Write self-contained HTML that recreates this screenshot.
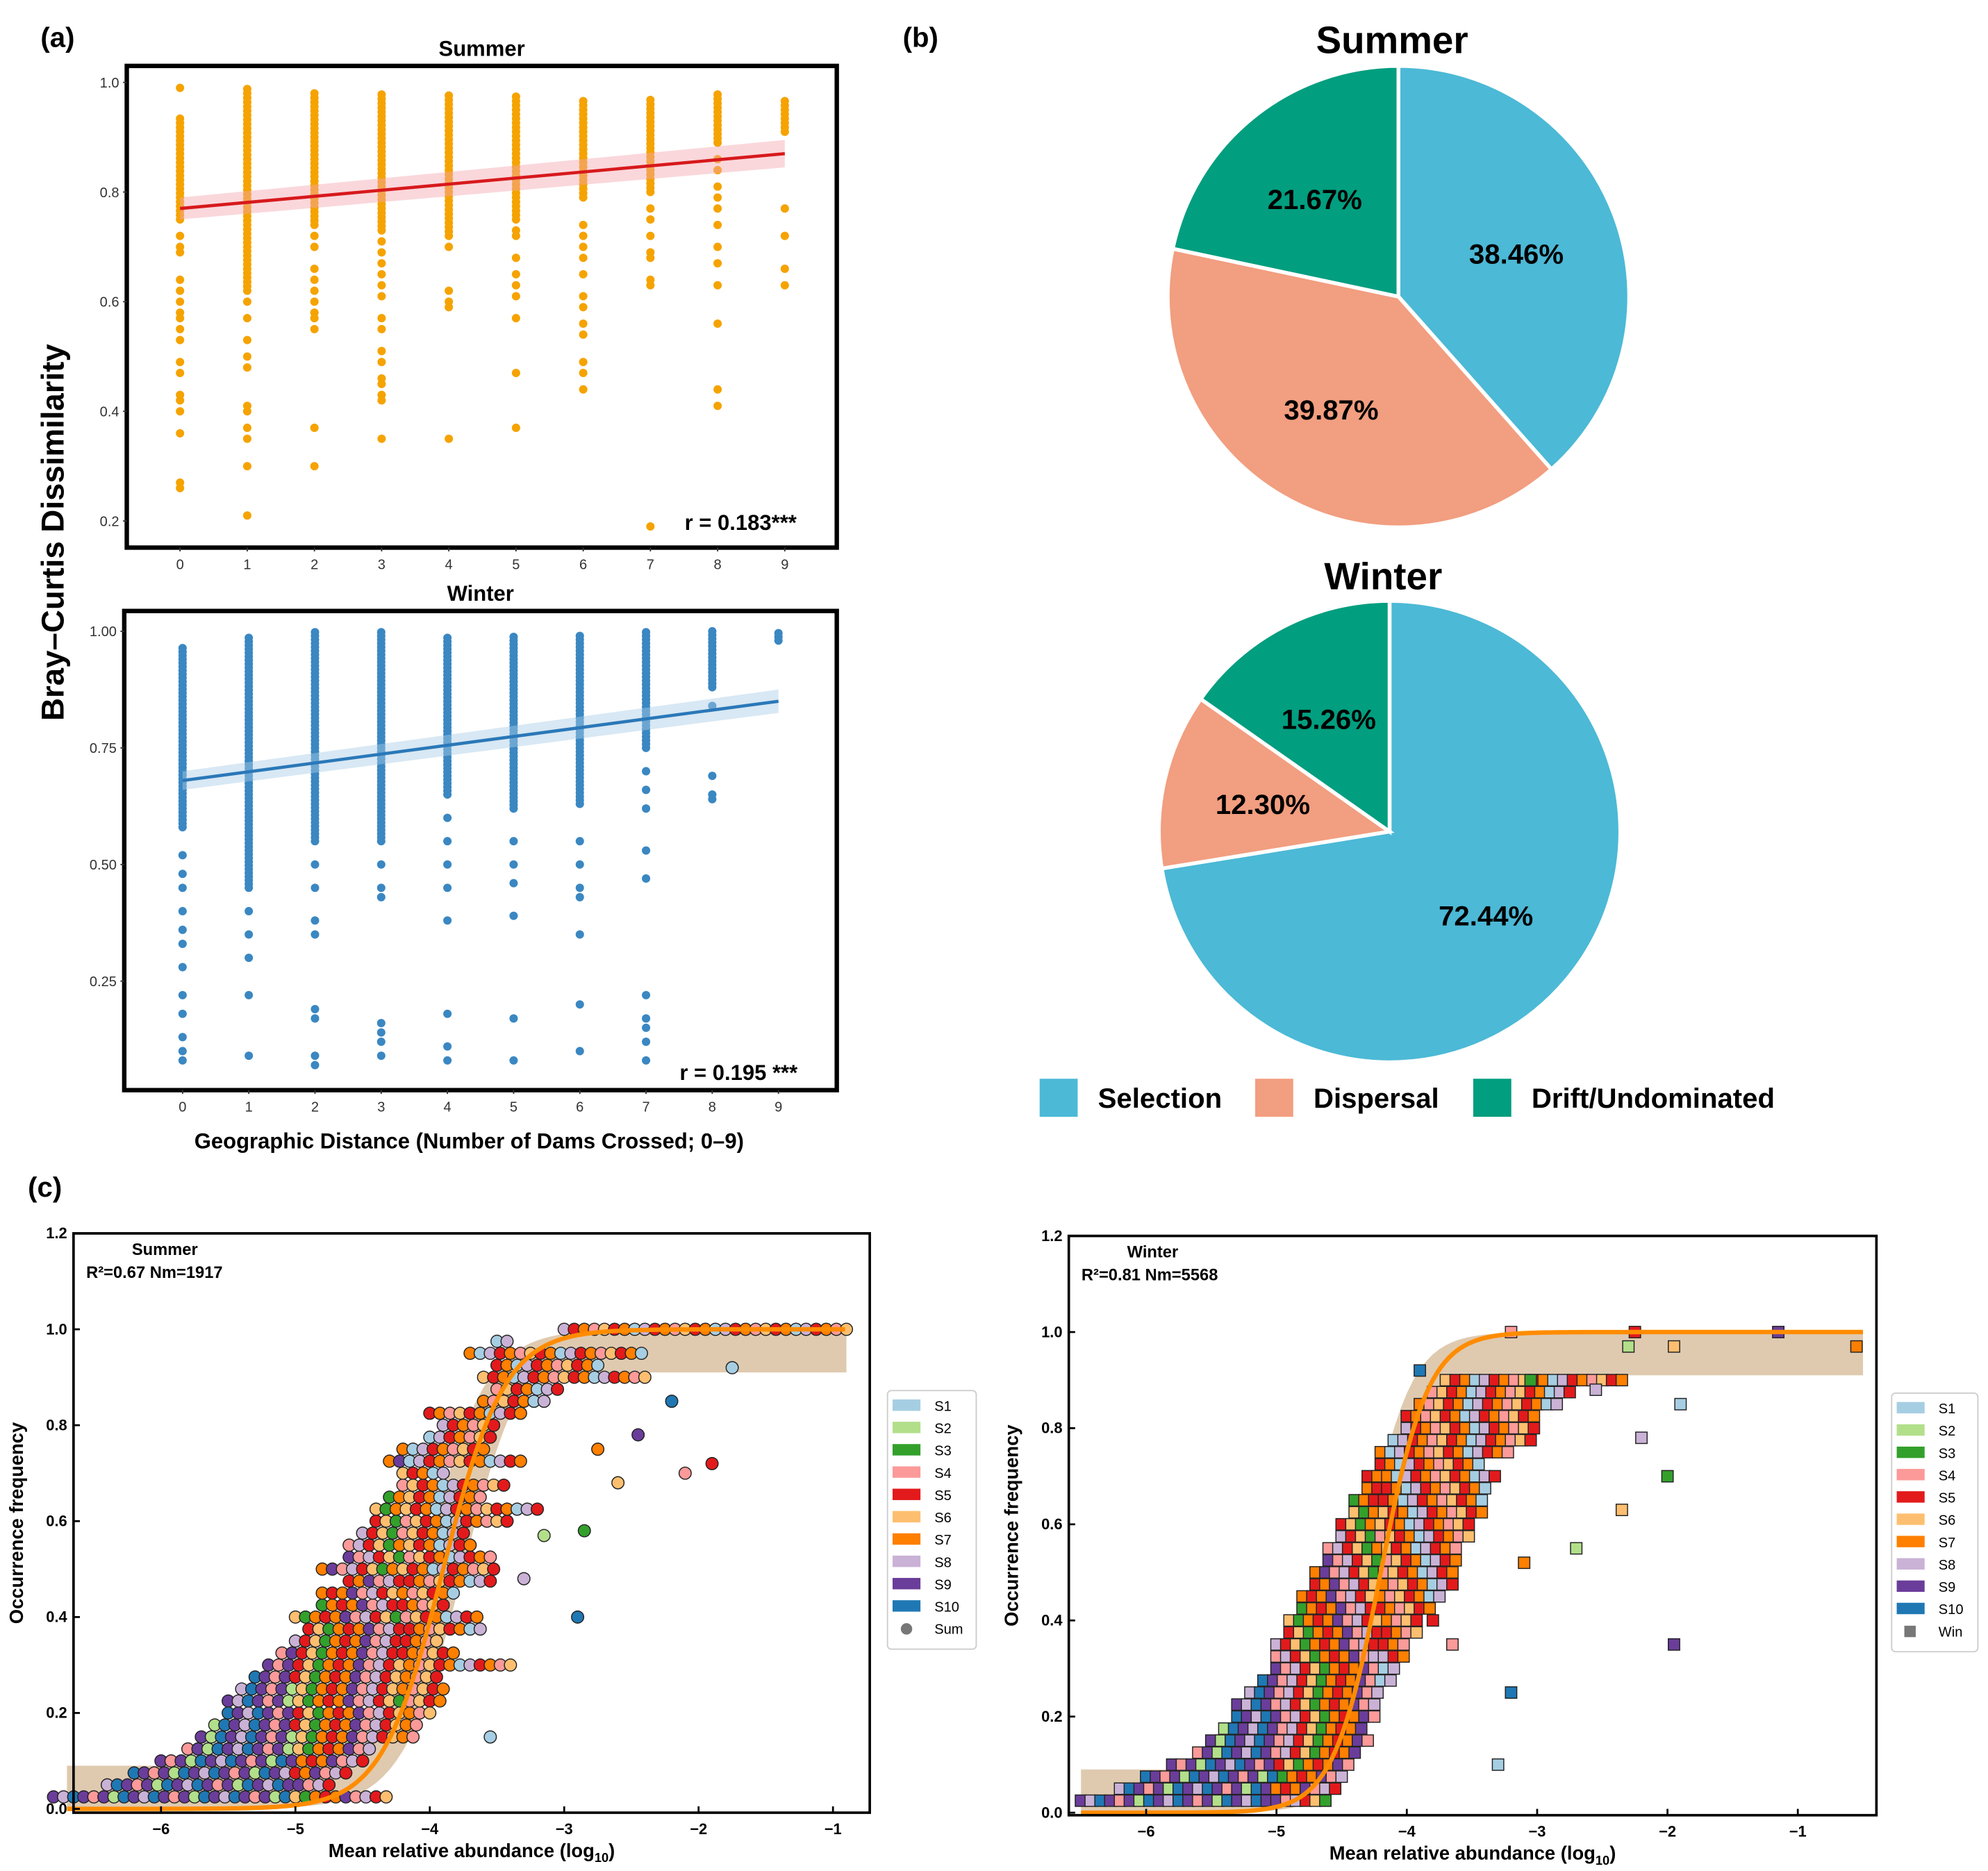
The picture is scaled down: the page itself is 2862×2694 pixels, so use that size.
<!DOCTYPE html>
<html><head><meta charset="utf-8"><style>
html,body{margin:0;padding:0;background:#fff;}
svg{display:block;font-family:"Liberation Sans",Arial,sans-serif;}
</style></head><body>
<svg id="fig" width="2862" height="2694" viewBox="0 0 1568 1476" preserveAspectRatio="none" xmlns="http://www.w3.org/2000/svg">
<rect width="1568" height="1476" fill="#fff"/>
<g id="pa"></g>
<g id="pb"></g>
<g id="pc"></g>
</svg>
<script>
// ---------- Panel a data ----------
const aCats=[0,1,2,3,4,5,6,7,8,9];
const sumDenseLo=[0.75,0.62,0.74,0.73,0.72,0.75,0.79,0.80,0.89,0.91];
const sumDenseHi=[0.94,0.99,0.98,0.98,0.98,0.98,0.97,0.97,0.98,0.97];
const sumExtra=[[0.99,0.72,0.70,0.69,0.64,0.62,0.60,0.58,0.57,0.55,0.53,0.49,0.47,0.43,0.42,0.40,0.36,0.27,0.26],[0.60,0.57,0.53,0.50,0.48,0.41,0.40,0.37,0.35,0.30,0.21],[0.72,0.70,0.66,0.64,0.62,0.60,0.58,0.57,0.55,0.37,0.30],[0.71,0.69,0.67,0.65,0.63,0.61,0.57,0.55,0.51,0.49,0.46,0.45,0.43,0.42,0.35],[0.70,0.62,0.60,0.59,0.35],[0.73,0.72,0.68,0.65,0.63,0.61,0.57,0.47,0.37],[0.74,0.72,0.70,0.68,0.65,0.61,0.59,0.56,0.54,0.49,0.47,0.44],[0.77,0.75,0.72,0.69,0.68,0.64,0.63,0.19],[0.86,0.84,0.81,0.79,0.77,0.74,0.70,0.67,0.63,0.56,0.44,0.41],[0.77,0.72,0.66,0.63]];
const sumFit=[0.77,0.87];
const winDenseLo=[0.58,0.45,0.55,0.55,0.65,0.62,0.63,0.75,0.88,0.98];
const winDenseHi=[0.97,0.99,1.00,1.00,0.99,0.99,0.99,1.00,1.00,1.00];
const winExtra=[[0.52,0.48,0.45,0.40,0.36,0.33,0.28,0.22,0.18,0.13,0.10,0.08],[0.40,0.35,0.30,0.22,0.09],[0.50,0.45,0.38,0.35,0.19,0.17,0.09,0.07],[0.50,0.45,0.43,0.16,0.14,0.12,0.09],[0.60,0.55,0.50,0.45,0.38,0.18,0.11,0.08],[0.55,0.50,0.46,0.39,0.17,0.08],[0.55,0.50,0.45,0.43,0.35,0.20,0.10],[0.70,0.66,0.62,0.53,0.47,0.22,0.17,0.15,0.12,0.08],[0.84,0.69,0.65,0.64],[]];
const winFit=[0.68,0.85];
const sumYTicks=[0.2,0.4,0.6,0.8,1.0];
const winYTicks=[0.25,0.50,0.75,1.00];
// ---------- Panel b data ----------
const pieLabels=["Selection","Dispersal","Drift/Undominated"];
const pieColors=["#4cb9d6","#f29e80","#019e7f"];
const summerShares=[38.46,39.87,21.67];
const winterShares=[72.44,12.30,15.26];
// ---------- Panel c data ----------
const occLevels=[0.025,0.05,0.075,0.1,0.125,0.15,0.175,0.2,0.225,0.25,0.275,0.3,0.325,0.35,0.375,0.4,0.425,0.45,0.475,0.5,0.525,0.55,0.575,0.6,0.625,0.65,0.675,0.7,0.725,0.75,0.775,0.8,0.825,0.85,0.875,0.9,0.925,0.95,0.975,1.0];
const sumXmin=[-6.8,-6.4,-6.2,-6.0,-5.8,-5.7,-5.6,-5.5,-5.5,-5.4,-5.3,-5.2,-5.1,-5.0,-4.9,-5.0,-4.8,-4.8,-4.6,-4.8,-4.6,-4.6,-4.5,-4.4,-4.4,-4.3,-4.2,-4.2,-4.3,-4.2,-4.0,-3.9,-4.0,-3.6,-3.5,-3.6,-3.5,-3.7,-3.5,-3.0];
const sumXmax=[-4.3,-4.7,-4.6,-4.5,-4.4,-4.1,-4.1,-4.0,-3.9,-3.9,-3.9,-3.4,-3.8,-3.9,-3.6,-3.6,-3.9,-3.8,-3.5,-3.5,-3.5,-3.7,-3.7,-3.4,-3.2,-3.6,-3.4,-3.9,-3.3,-3.6,-3.5,-3.5,-3.3,-3.1,-3.0,-2.4,-2.7,-2.4,-3.4,-0.9];
const sumOutX=[-3.55,-2.9,-2.1,-1.9,-2.45,-2.75,-2.6,-3.15,-2.85,-3.3,-1.75,-2.2];
const sumOutY=[0.15,0.40,0.70,0.72,0.78,0.75,0.68,0.57,0.58,0.48,0.92,0.85];
const winLevels=[0.025,0.05,0.075,0.1,0.125,0.15,0.175,0.2,0.225,0.25,0.275,0.3,0.325,0.35,0.375,0.4,0.425,0.45,0.475,0.5,0.525,0.55,0.575,0.6,0.625,0.65,0.675,0.7,0.725,0.75,0.775,0.8,0.825,0.85,0.875,0.9];
const winXmin=[-6.5,-6.2,-6.0,-5.8,-5.6,-5.5,-5.4,-5.3,-5.3,-5.2,-5.1,-5.0,-5.0,-5.0,-4.9,-4.9,-4.8,-4.8,-4.7,-4.7,-4.6,-4.6,-4.5,-4.5,-4.4,-4.4,-4.3,-4.3,-4.2,-4.2,-4.1,-4.0,-4.0,-3.9,-3.8,-3.7];
const winXmax=[-4.6,-4.5,-4.5,-4.4,-4.4,-4.3,-4.3,-4.2,-4.2,-4.2,-4.1,-4.1,-4.0,-4.0,-3.9,-3.9,-3.8,-3.7,-3.6,-3.6,-3.6,-3.6,-3.5,-3.5,-3.4,-3.4,-3.4,-3.3,-3.4,-3.2,-3.0,-3.0,-3.0,-2.8,-2.7,-2.3];
const winOutX=[-3.3,-3.2,-3.65,-3.8,-1.95,-3.1,-2.35,-2.7,-2.0,-2.2,-1.9,-3.9,-3.2,-2.25,-1.15,-0.55,-1.95,-2.3,-3.05,-2.55];
const winOutY=[0.10,0.25,0.35,0.40,0.35,0.52,0.63,0.55,0.70,0.78,0.85,0.92,1.0,1.0,1.0,0.97,0.97,0.97,0.90,0.88];
const seriesNames=["S1","S2","S3","S4","S5","S6","S7","S8","S9","S10"];
const seriesColors=["#a6cee3","#b2df8a","#33a02c","#fb9a99","#e31a1c","#fdbf6f","#ff7f00","#cab2d6","#6a3d9a","#1f78b4"];
const occXTicks=[-6,-5,-4,-3,-2,-1];
const occYTicks=[0.0,0.2,0.4,0.6,0.8,1.0,1.2];
const sumModel=[-3.9,4.4];
const winModel=[-4.2,5.5];

const NS="http://www.w3.org/2000/svg";
function mk(tag,parent,attrs,txt){const e=document.createElementNS(NS,tag);for(const k in attrs)e.setAttribute(k,attrs[k]);if(txt!==undefined)e.textContent=txt;parent.appendChild(e);return e;}
const pa=document.getElementById('pa'),pb=document.getElementById('pb'),pc=document.getElementById('pc');

// ----- Panel a -----
function scatterA(g,box,xs,ys,dLo,dHi,extra,fit,yt,yfmt,col,fitCol,bandCol,title,rtxt,rx,ry,name){
  const sx=v=>xs[0]+(v)*(xs[1]-xs[0])/9;
  const sy=v=>ys[0]+(ys[2]-v)*(ys[1]-ys[0])/(ys[2]-ys[3]);
  const t=mk('text',g,{x:(box[0]+box[2])/2,y:box[1]-8,'text-anchor':'middle','font-size':17,'font-weight':'bold'},title);
  
  
  const pts=mk('g',g,{fill:col});
  
  
  aCats.forEach((c,i)=>{
    for(let v=dLo[i];v<=dHi[i]+1e-9;v+=0.008){const p=mk('circle',pts,{cx:sx(c),cy:sy(v),r:3.3});}
    extra[i].forEach(v=>{const p=mk('circle',pts,{cx:sx(c),cy:sy(v),r:3.3});});
  });
  const band=mk('polygon',g,{points:`${sx(0)},${sy(fit[0]+0.02)} ${sx(9)},${sy(fit[1]+0.025)} ${sx(9)},${sy(fit[1]-0.025)} ${sx(0)},${sy(fit[0]-0.02)}`,fill:bandCol,opacity:0.45});
  
  
  const ln=mk('line',g,{x1:sx(0),y1:sy(fit[0]),x2:sx(9),y2:sy(fit[1]),stroke:fitCol,'stroke-width':2.5});
  
  
  const fr=mk('rect',g,{x:box[0],y:box[1],width:box[2]-box[0],height:box[3]-box[1],fill:'none',stroke:'#000','stroke-width':3.5});
  
  
  yt.forEach(v=>{const tt=mk('text',g,{x:box[0]-6,y:sy(v)+4,'text-anchor':'end','font-size':11,fill:'#333'},v.toFixed(yfmt));
    mk('line',g,{x1:box[0]-3,x2:box[0],y1:sy(v),y2:sy(v),stroke:'#333'});});
  aCats.forEach(c=>{const tt=mk('text',g,{x:sx(c),y:box[3]+17,'text-anchor':'middle','font-size':11,fill:'#333'},String(c));
    mk('line',g,{x1:sx(c),x2:sx(c),y1:box[3],y2:box[3]+3,stroke:'#333'});});
  const r=mk('text',g,{x:rx,y:ry,'font-size':17,'font-weight':'bold'},rtxt);
  
  
}
scatterA(pa,[100,52,660,432],[142,619],[65,411,1.0,0.2],sumDenseLo,sumDenseHi,sumExtra,sumFit,sumYTicks,1,'#f5a300','#d7191c','#f4a6b0','Summer','r = 0.183***',540,418,'summer-scatter');
scatterA(pa,[98,482,660,860],[144,614],[498,774,1.0,0.25],winDenseLo,winDenseHi,winExtra,winFit,winYTicks,2,'#3a87c2','#2a78b8','#a9cde6','Winter','r = 0.195 ***',536,852,'winter-scatter');
let t;
t=mk('text',pa,{x:50,y:420,'text-anchor':'middle','font-size':25,'font-weight':'bold',transform:'rotate(-90 50 420)'},'Bray–Curtis Dissimilarity');

t=mk('text',pa,{x:370,y:906,'text-anchor':'middle','font-size':17,'font-weight':'bold'},'Geographic Distance (Number of Dams Crossed; 0–9)');

t=mk('text',pa,{x:32,y:37,'font-size':22,'font-weight':'bold'},'(a)');


// ----- Panel b -----
t=mk('text',pb,{x:712,y:37,'font-size':22,'font-weight':'bold'},'(b)');

function pie(cx,cy,r,shares,title,ty,labelPos,name){
  const tt=mk('text',pb,{x:cx-5,y:ty,'text-anchor':'middle','font-size':30,'font-weight':'bold'},title);
  
  const tot=shares.reduce((a,b)=>a+b,0);let a0=0;
  shares.forEach((s,i)=>{
    const a1=a0+s/tot*2*Math.PI;
    const p=(a)=>[cx+r*Math.sin(a),cy-r*Math.cos(a)];
    const [x0,y0]=p(a0),[x1,y1]=p(a1);
    const sl=mk('path',pb,{d:`M${cx},${cy} L${x0},${y0} A${r},${r} 0 ${a1-a0>Math.PI?1:0} 1 ${x1},${y1} Z`,fill:pieColors[i],stroke:'#fff','stroke-width':3});
    
    
    const lb=mk('text',pb,{x:labelPos[i][0],y:labelPos[i][1],'text-anchor':'middle','font-size':22,'font-weight':'bold'},s.toFixed(2)+'%');
    
    a0=a1;
  });
}
pie(1103,234,182,summerShares,'Summer',42,[[1196,208],[1050,331],[1037,165]],'summer-pie');
pie(1096,656,182,winterShares,'Winter',465,[[1172,730],[996,642],[1048,575]],'winter-pie');
const legX=[820,990,1162];
pieLabels.forEach((l,i)=>{
  const s=mk('rect',pb,{x:legX[i],y:851,width:30,height:30,fill:pieColors[i]});
  
  const tx=mk('text',pb,{x:legX[i]+46,y:874,'font-size':22,'font-weight':'bold'},l);
  
});

// ----- Panel c -----
t=mk('text',pc,{x:22,y:944,'font-size':22,'font-weight':'bold'},'(c)');

function colorFor(x,j){
  if(x<-5) return [8,7,9,8,3,8,1,9][j%8];
  if(x<-4.2) return [4,6,8,3,7,4,5,2,6][j%9];
  return [4,6,3,5,4,6,0,7][j%8];
}
function occPanel(box,xr,yr,levels,xmin,xmax,outX,outY,model,shape,name,title,stats,legBox,sumLbl){
  const sx=v=>xr[0]+(v+6)*(xr[1]-xr[0])/5;
  const sy=v=>yr[1]-v*(yr[1]-yr[0])/1.2;
  const g=mk('g',pc,{});
  
  const L=(x)=>1/(1+Math.exp(-model[1]*(x-model[0])));
  const x0=shape==='c'?-6.7:-6.5, x1=shape==='c'?-0.9:-0.5;
  const upp=[],low=[];
  for(let x=x0;x<=x1+1e-9;x+=0.05){upp.push(`${sx(x)},${sy(Math.min(1,Math.max(0.09,L(x+0.15))))}`);low.push(`${sx(x)},${sy(Math.min(0.91,L(x-0.15)))}`);}
  const band=mk('polygon',g,{points:upp.concat(low.reverse()).join(' '),fill:'#c9a77c',opacity:0.6});
  
  const pts=mk('g',g,{stroke:'#222','stroke-width':0.8});
  
  function dot(x,y,c){let p;
    if(shape==='c') p=mk('circle',pts,{cx:sx(x),cy:sy(y),r:4.8,fill:c});
    else p=mk('rect',pts,{x:sx(x)-4.5,y:sy(y)-4.5,width:9,height:9,fill:c});
    }
  levels.forEach((y,i)=>{
    let j=i;
    for(let x=xmin[i];x<=xmax[i]+1e-9;x+=0.075){dot(x,y,seriesColors[colorFor(x,j++)]);}
  });
  outX.forEach((x,i)=>dot(x,outY[i],seriesColors[[0,9,3,4,8,6,5,1,2,7][i%10]]));
  const cp=[];for(let x=x0;x<=x1+1e-9;x+=0.03)cp.push(`${sx(x)},${sy(L(x))}`);
  const cv=mk('polyline',g,{points:cp.join(' '),fill:'none',stroke:'#ff8c00','stroke-width':3.5});
  
  const fr=mk('rect',g,{x:box[0],y:box[1],width:box[2]-box[0],height:box[3]-box[1],fill:'none',stroke:'#000','stroke-width':2});
  
  occXTicks.forEach(v=>{mk('line',g,{x1:sx(v),x2:sx(v),y1:box[3],y2:box[3]-5,stroke:'#000','stroke-width':1.5});
    const tt=mk('text',g,{x:sx(v),y:box[3]+17,'text-anchor':'middle','font-size':12,'font-weight':'bold'},'−'+Math.abs(v));});
  occYTicks.forEach(v=>{mk('line',g,{x1:box[0],x2:box[0]+5,y1:sy(v),y2:sy(v),stroke:'#000','stroke-width':1.5});
    const tt=mk('text',g,{x:box[0]-5,y:sy(v)+4,'text-anchor':'end','font-size':12,'font-weight':'bold'},v.toFixed(1));});
  const xt=mk('text',g,{x:(box[0]+box[2])/2,y:box[3]+35,'text-anchor':'middle','font-size':15,'font-weight':'bold'});
  
  xt.appendChild(document.createTextNode('Mean relative abundance (log'));
  mk('tspan',xt,{'font-size':10,dy:4},'10');mk('tspan',xt,{dy:-4},')');
  const yt=mk('text',g,{x:box[0]-40,y:(box[1]+box[3])/2,'text-anchor':'middle','font-size':15,'font-weight':'bold',transform:`rotate(-90 ${box[0]-40} ${(box[1]+box[3])/2})`},'Occurrence frequency');
  
  t=mk('text',g,{x:box[0]+46,y:box[1]+17,'font-size':13,'font-weight':'bold'},title);
  t=mk('text',g,{x:box[0]+10,y:box[1]+35,'font-size':13,'font-weight':'bold','xml:space':'preserve'},stats);
  const lb=mk('rect',g,{x:legBox[0],y:legBox[1],width:legBox[2],height:204,fill:'#fff',stroke:'#ccc',rx:3});
  
  seriesNames.forEach((s,i)=>{const yy=legBox[1]+12+i*17.6;
    const sw=mk('rect',g,{x:legBox[0]+4,y:yy-5,width:22,height:9,fill:seriesColors[i]});
    const tx=mk('text',g,{x:legBox[0]+37,y:yy+4,'font-size':11},s);});
  const yy=legBox[1]+12+10*17.6;
  if(shape==='c') mk('circle',g,{cx:legBox[0]+15,cy:yy,r:4.5,fill:'#777'}); else mk('rect',g,{x:legBox[0]+10,y:yy-4.5,width:9,height:9,fill:'#777'});
  const tx=mk('text',g,{x:legBox[0]+37,y:yy+4,'font-size':11},sumLbl);
}
occPanel([58,973,686,1430],[127,657],[973,1427],occLevels,sumXmin,sumXmax,sumOutX,sumOutY,sumModel,'c','summer-occupancy-plot','Summer','R²=0.67   Nm=1917',[700,1097,70],'Sum');
occPanel([843,975,1480,1432],[904,1418],[975,1430],winLevels,winXmin,winXmax,winOutX,winOutY,winModel,'s','winter-occupancy-plot','Winter','R²=0.81   Nm=5568',[1492,1099,68],'Win');
</script>
</body></html>
